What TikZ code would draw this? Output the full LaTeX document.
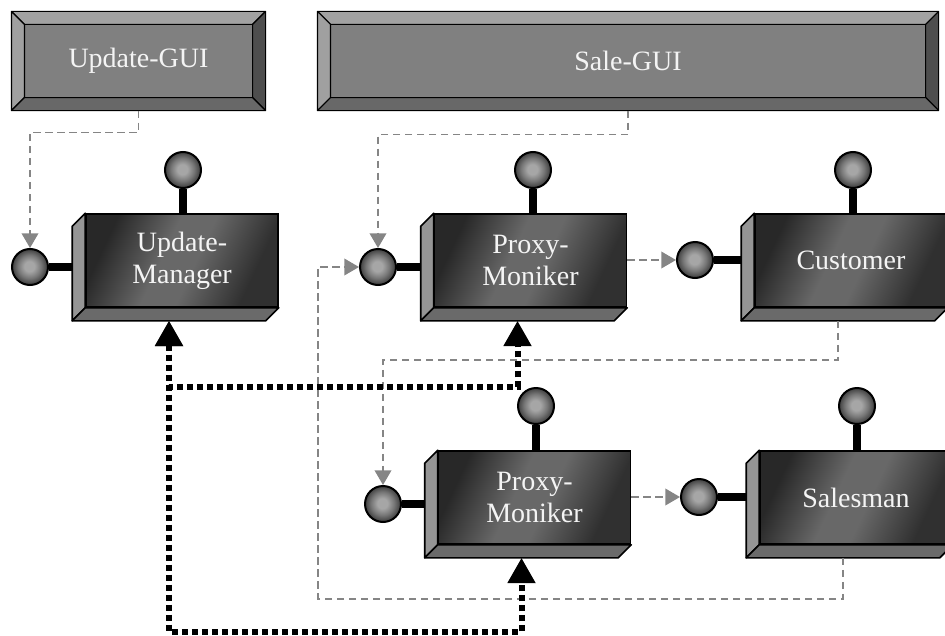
\documentclass[tikz,border=0pt]{standalone}
\usepackage{fontspec}
\setmainfont{Liberation Serif}
\usetikzlibrary{calc,arrows.meta,backgrounds}

% palette
\definecolor{facedark}{HTML}{282828}
\definecolor{facelight}{HTML}{686868}
\definecolor{faceend}{HTML}{303030}
\definecolor{sidelight}{HTML}{959595}
\definecolor{sidedark}{HTML}{6A6A6A}
\definecolor{ballhi}{HTML}{A6A6A6}
\definecolor{ballmid}{HTML}{777777}
\definecolor{balllo}{HTML}{3C3C3C}
\definecolor{guiface}{HTML}{808080}
\definecolor{guitop}{HTML}{A2A2A2}
\definecolor{guileft}{HTML}{A0A0A0}
\definecolor{guiright}{HTML}{4E4E4E}
\definecolor{guibottom}{HTML}{686868}
\definecolor{wire}{HTML}{858585}
\definecolor{labelcol}{HTML}{F4F4F4}

% front face of a component and the spherical ports
\pgfdeclarehorizontalshading{faceshade}{100bp}{color(0bp)=(facedark); color(26bp)=(facedark); color(44bp)=(facelight); color(54bp)=(facelight); color(72bp)=(faceend); color(100bp)=(faceend)}
\pgfdeclareradialshading{ballshade}{\pgfpoint{-1bp}{1bp}}{color(0bp)=(ballhi); color(7bp)=(ballhi); color(16bp)=(ballmid); color(25bp)=(balllo); color(50bp)=(balllo)}

\begin{document}
\begin{tikzpicture}[x=0.75pt,y=-0.75pt,
  txt/.style={text=labelcol, font=\fontsize{21}{24}\selectfont, align=center},
  component/.style={txt, shade, shading=faceshade, shading angle=-25, draw=black,
    line width=1.2pt, minimum width=144pt, minimum height=69.75pt, inner sep=0pt},
  gui/.style={txt, fill=guiface, draw=black, line width=0.8pt, minimum height=73.5pt, inner sep=0pt},
  bevel/.style={draw=black, line width=0.8pt, line join=round},
  side/.style={draw=black, line width=1.2pt, line join=round},
  port/.style={circle, shade, shading=ballshade, draw=black, line width=1.5pt, minimum size=27pt, inner sep=0pt},
  stem/.style={line width=6pt, black},
  link/.style={draw=wire, line width=1.1pt, dash pattern=on 5.5pt off 3.5pt,
    -{Triangle[length=11pt,width=12.5pt]}},
  bind/.style={draw=black, line width=4.5pt, dash pattern=on 4.5pt off 3pt,
    {Triangle[length=19pt,width=20pt]}-{Triangle[length=19pt,width=20pt]}}]

\useasboundingbox (0,0) rectangle (945,635);

% GUI panels
\node[gui, minimum width=189.75pt] (ugui) at (138.5,61) {Update-GUI};
\node[gui, minimum width=465pt] (sgui) at (628,61) {Sale-GUI};
\foreach \g in {ugui,sgui}{
  \filldraw[bevel, fill=guitop] (\g.north west) -- (\g.north east) -- ($(\g.north east)+(-13,13)$) -- ($(\g.north west)+(13,13)$) -- cycle;
  \filldraw[bevel, fill=guileft] (\g.north west) -- ($(\g.north west)+(13,13)$) -- ($(\g.south west)+(13,-13)$) -- (\g.south west) -- cycle;
  \filldraw[bevel, fill=guiright] (\g.north east) -- ($(\g.north east)+(-13,13)$) -- ($(\g.south east)+(-13,-13)$) -- (\g.south east) -- cycle;
  \filldraw[bevel, fill=guibottom] (\g.south west) -- ($(\g.south west)+(13,-13)$) -- ($(\g.south east)+(-13,-13)$) -- (\g.south east) -- cycle;
}

% components
\node[component] (um)  at (182,260.5)   {Update-\\Manager};
\node[component] (pm1) at (530.5,260.5) {Proxy-\\Moniker};
\node[component] (cu)  at (851,260.5)   {Customer};
\node[component] (pm2) at (534.5,497.5) {Proxy-\\Moniker};
\node[component] (sa)  at (856,497.5)   {Salesman};

\foreach \n in {um,pm1,cu,pm2,sa}{
  \filldraw[side, fill=sidelight] ($(\n.north west)+(-13,13)$) -- (\n.north west) -- (\n.south west) -- ($(\n.south west)+(-13,13)$) -- cycle;
  \filldraw[side, fill=sidedark] ($(\n.south west)+(-13,13)$) -- (\n.south west) -- (\n.south east) -- ($(\n.south east)+(-13,13)$) -- cycle;
  \coordinate (\n-b) at ($(\n.south)+(-13,13)$);
}

% ports
\node[port] (um-top)  at (183,170) {};
\node[port] (um-in)   at (30,267)  {};
\node[port] (pm1-top) at (533,170) {};
\node[port] (pm1-in)  at (378,267) {};
\node[port] (cu-top)  at (853,170) {};
\node[port] (cu-in)   at (695,260) {};
\node[port] (pm2-top) at (536,406) {};
\node[port] (pm2-in)  at (383,504) {};
\node[port] (sa-top)  at (857,406) {};
\node[port] (sa-in)   at (699,497) {};

\begin{pgfonlayer}{background}
  \foreach \n in {um,pm1,cu,pm2,sa}{
    \draw[stem] (\n-top) -- (\n-top |- \n.center);
    \draw[stem] (\n-in) -- (\n-in -| \n.center);
  }
\end{pgfonlayer}

% calls between components
\draw[link] (ugui.south) -- ++(0,22) -| (um-in.north);
\draw[link] (sgui.south) -- ++(0,24) -| (pm1-in.north);
\draw[link] (pm1.east |- cu-in) -- (cu-in.west);
\draw[link] (cu-b) -- ++(0,39) -| (pm2-in.north);
\draw[link] (pm2.east |- sa-in) -- (sa-in.west);
\draw[link] (sa-b) -- ++(0,41) -| ($(pm1-in.west)+(-41,0)$) -- (pm1-in.west);

% bindings from the manager to the monikers
\draw[bind] (um-b) -- ++(0,66) -| (pm1-b);
\draw[bind] (um-b) -- ++(0,311) -| (pm2-b);

\end{tikzpicture}
\end{document}
